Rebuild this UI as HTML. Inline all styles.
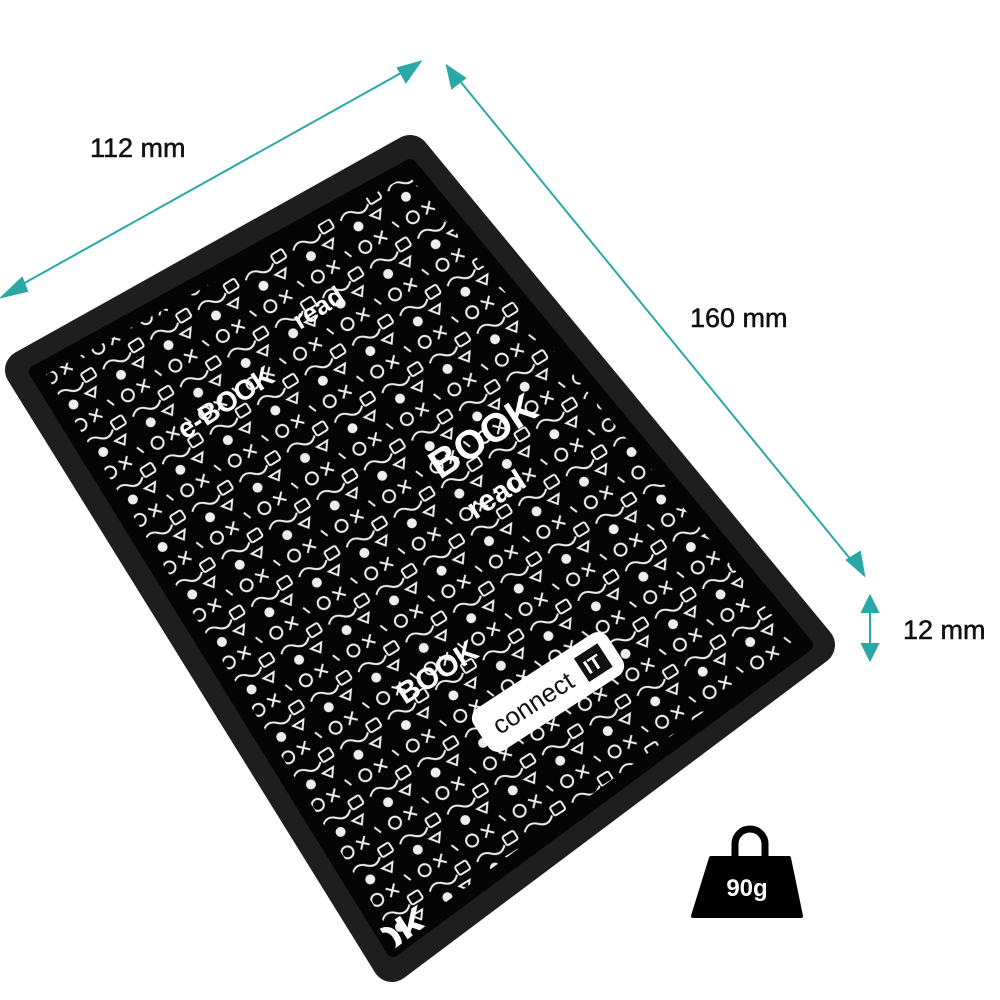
<!DOCTYPE html>
<html><head><meta charset="utf-8"><style>
html,body{margin:0;padding:0;background:#fff;width:1000px;height:1000px;overflow:hidden}
svg{display:block}
</style></head><body>
<svg width="1000" height="1000" viewBox="0 0 1000 1000" xmlns="http://www.w3.org/2000/svg">
<defs>
<pattern id="doodle" width="56" height="56" patternUnits="userSpaceOnUse" patternTransform="rotate(-32)">
<rect width="56" height="56" fill="#050505"/>
<g fill="none" stroke="#eee" stroke-width="2">
<circle cx="11" cy="11" r="6"/>
<path d="M24 6 l10 10 M34 6 l-10 10"/>
<rect x="38" y="24" width="13" height="10" rx="2"/>
<path d="M4 32 q8 -8 16 0 t16 0"/>
<circle cx="16" cy="46" r="4" fill="#eee"/>
<path d="M32 43 l6 8 l6 -8 z"/>
<path d="M47 4 l3 8"/>
</g>
</pattern>
<clipPath id="inner"><path d="M410 166 L806 645 L393 950 L36 372 Z"/></clipPath>
</defs>
<g stroke="#2aa8a8" stroke-width="2" fill="#2aa8a8">
<line x1="12" y1="290" x2="410" y2="68"/>
<path d="M2 297 L22 278 L27 291 Z"/>
<path d="M420 62 L398 68 L406 82 Z"/>
<line x1="455" y1="75" x2="856" y2="566"/>
<path d="M447 66 L452 88 L465 78 Z"/>
<path d="M864 575 L847 560 L860 552 Z"/>
<line x1="870" y1="605" x2="870" y2="652"/>
<path d="M870 596 L862 612 L878 612 Z"/>
<path d="M870 660 L862 644 L878 644 Z"/>
</g>
<g font-family="Liberation Sans, sans-serif" font-size="27" fill="#111" stroke="#111" stroke-width="0.5">
<text x="90" y="157">112 mm</text>
<text x="690" y="327">160 mm</text>
<text x="903" y="639">12 mm</text>
</g>
<path d="M410 155 L815 645 L392 962 L25 370 Z" fill="#1e1e1e" stroke="#1e1e1e" stroke-width="40" stroke-linejoin="round"/>
<path d="M410 166 L806 645 L393 950 L36 372 Z" fill="url(#doodle)" stroke="#050505" stroke-width="14" stroke-linejoin="round"/>
<g clip-path="url(#inner)" font-family="Liberation Sans, sans-serif" font-weight="bold" fill="#fff">
<text x="0" y="0" font-size="40" transform="translate(440,480) rotate(-33)">BOOK</text>
<text x="0" y="0" font-size="30" transform="translate(475,520) rotate(-33)">read</text>
<text x="0" y="0" font-size="28" transform="translate(185,440) rotate(-33)">e-BOOK</text>
<text x="0" y="0" font-size="26" transform="translate(300,330) rotate(-33)">read</text>
<text x="0" y="0" font-size="26" transform="translate(270,225) rotate(-33)">e-BOOK</text>
<text x="0" y="0" font-size="30" transform="translate(405,705) rotate(-33)">BOOK</text>
<text x="0" y="0" font-size="44" transform="translate(380,965) rotate(-33)">OK</text>
</g>
<g transform="translate(548,692) rotate(-33)">
<rect x="-80" y="-25" width="160" height="50" rx="12" fill="#fff"/>
<text x="-64" y="10" font-family="Liberation Sans, sans-serif" font-size="26" fill="#111">connect</text>
<rect x="40" y="-14" width="28" height="28" fill="#111"/>
<text x="44" y="8" font-family="Liberation Sans, sans-serif" font-size="20" font-weight="bold" fill="#fff">IT</text>
</g>
<path d="M735 858 v-14 a15 15 0 0 1 30 0 v14" fill="none" stroke="#000" stroke-width="7"/>
<path d="M711 858 L789 858 L801 916 L693 916 Z" fill="#000" stroke="#000" stroke-width="4" stroke-linejoin="round"/>
<text x="747" y="896" text-anchor="middle" font-family="Liberation Sans, sans-serif" font-size="24" font-weight="bold" fill="#fff">90g</text>
</svg>
</body></html>
